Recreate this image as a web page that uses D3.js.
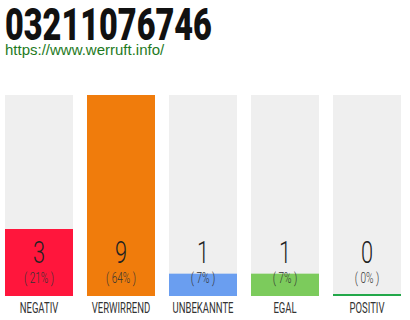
<!DOCTYPE html>
<html>
<head>
<meta charset="utf-8">
<script src="https://cdn.jsdelivr.net/npm/d3@7"></script>
<style>
  body { margin: 0; background: #fff; }
</style>
</head>
<body>
<svg id="chart" width="410" height="320"></svg>
<script>
const title = "03211076746"
const url = "https://www.werruft.info/"
const categories = ["NEGATIV", "VERWIRREND", "UNBEKANNTE", "EGAL", "POSITIV"]
const counts = [3, 9, 1, 1, 0]
const percents = ["( 21% )", "( 64% )", "( 7% )", "( 7% )", "( 0% )"]
const colors = ["#ff163c", "#f07c0c", "#6a9ef0", "#7ccb5c", "#23a84a"]

let svg = d3.select("#chart")

// title squeezed to the width it has in the picture
let titleText = svg.append("text")
    .style("font", "900 45px Roboto")
    .attr("fill", "#111")
    .text(title)
let tw = titleText.node().getComputedTextLength()
titleText.attr("transform", "translate(5,40) scale(" + (207 / tw) + ",1)")

svg.append("text")
    .attr("x", 5)
    .attr("y", 55)
    .style("font", "15px 'Liberation Sans'")
    .attr("fill", "#1e7a1e")
    .text(url)

let x = d3.scaleBand().domain(categories).range([5, 401]).paddingInner(14 / 82)
let y = d3.scaleLinear().domain([0, d3.max(counts)]).range([296, 95])

let g = svg.selectAll(".bar")
    .data(categories)
    .enter().append("g")
    .attr("class", "bar")

g.append("rect")
    .attr("x", d => x(d))
    .attr("y", y.range()[1])
    .attr("width", x.bandwidth())
    .attr("height", y(0) - y.range()[1])
    .attr("fill", "#efefef")

g.append("rect")
    .attr("x", d => x(d))
    .attr("y", (d, i) => counts[i] > 0 ? y(counts[i]) : y(0) - 2)
    .attr("width", x.bandwidth())
    .attr("height", (d, i) => counts[i] > 0 ? y(0) - y(counts[i]) : 2)
    .attr("fill", (d, i) => colors[i])

// condensed text: squeeze Roboto horizontally
const narrow = (yy, sx) => d => "translate(" + (x(d) + x.bandwidth() / 2) + "," + yy + ") scale(" + sx + ",1)"

g.append("text")
    .attr("transform", narrow(263, 0.68))
    .attr("text-anchor", "middle")
    .style("font", "300 32px Roboto")
    .attr("fill", "#222")
    .text((d, i) => counts[i])

g.append("text")
    .attr("transform", narrow(283, 0.72))
    .attr("text-anchor", "middle")
    .style("font", "300 14px Roboto")
    .style("white-space", "pre")
    .attr("fill", "#333")
    .text((d, i) => percents[i])

g.append("text")
    .attr("transform", narrow(313, 0.68))
    .attr("text-anchor", "middle")
    .style("font", "400 14px Roboto")
    .attr("fill", "#333")
    .text(d => d)
</script>
</body>
</html>
